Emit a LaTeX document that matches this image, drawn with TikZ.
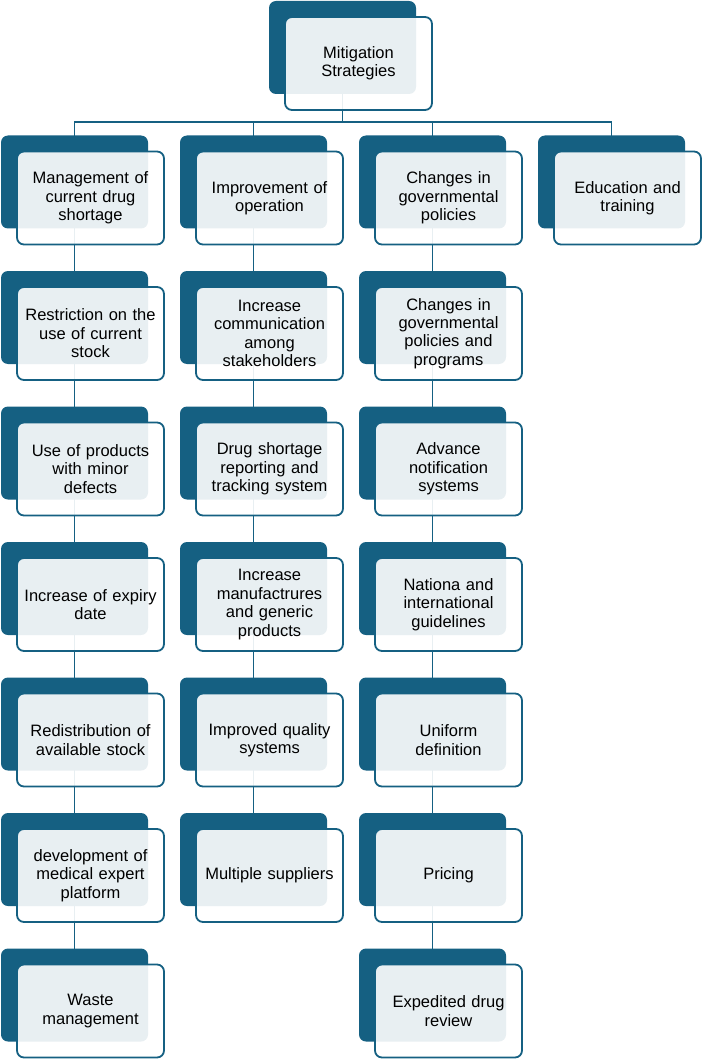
\documentclass[tikz,border=0pt]{standalone}
\usepackage{fontspec}
\setmainfont{Liberation Sans}
\definecolor{StratTeal}{HTML}{156082}
\usetikzlibrary{positioning,backgrounds}

\begin{document}
\begin{tikzpicture}[x=1pt,y=-1pt,
      card/.style={draw=StratTeal,line width=1.8pt,rounded corners=7pt,
                   fill=white,fill opacity=0.9,text opacity=1,
                   minimum width=147pt,minimum height=93pt,inner sep=0pt,
                   text width=140pt,align=center,
                   font=\fontsize{16.5}{18.4}\selectfont,
                   preaction={fill=StratTeal,fill opacity=1,draw=none,
                     transform canvas={xshift=-16pt,yshift=16pt}}},
      link/.style={line width=1.8pt,draw=StratTeal}]
    \useasboundingbox (0,0) rectangle (701,1059);
    % top
    \node[card] (strat) at (358.5,63.5) {Mitigation\\Strategies};
    % column 1
    \node[card] (mgmt) at (90.5,198) {Management of\\current drug\\shortage};
    \node[card] (restr) at (90.5,333.5) {Restriction on the\\use of current\\stock};
    \node[card] (defect) at (90.5,469) {Use of products\\with minor\\defects};
    \node[card] (expiry) at (90.5,604.5) {Increase of expiry\\date};
    \node[card] (redist) at (90.5,740) {Redistribution of\\available stock};
    \node[card] (expert) at (90.5,875.5) {development of\\medical expert\\platform};
    \node[card] (waste) at (90.5,1011) {Waste\\management};
    % column 2
    \node[card] (oper) at (269.5,198) {Improvement of\\operation};
    \node[card] (comm) at (269.5,333.5) {Increase\\communication\\among\\stakeholders};
    \node[card] (report) at (269.5,469) {Drug shortage\\reporting and\\tracking system};
    \node[card] (manuf) at (269.5,604.5) {Increase\\manufactrures\\and generic\\products};
    \node[card] (quality) at (269.5,740) {Improved quality\\systems};
    \node[card] (supp) at (269.5,875.5) {Multiple suppliers};
    % column 3
    \node[card] (policy) at (448.5,198) {Changes in\\governmental\\policies};
    \node[card] (program) at (448.5,333.5) {Changes in\\governmental\\policies and\\programs};
    \node[card] (notif) at (448.5,469) {Advance\\notification\\systems};
    \node[card] (guide) at (448.5,604.5) {Nationa and\\international\\guidelines};
    \node[card] (define) at (448.5,740) {Uniform\\definition};
    \node[card] (pricing) at (448.5,875.5) {Pricing};
    \node[card] (review) at (448.5,1011) {Expedited drug\\review};
    % column 4
    \node[card] (edu) at (627.5,198) {Education and\\training};
    % links behind the cards
    \begin{scope}[on background layer]
      \coordinate (bus) at (0,122);
      \draw[link] ([xshift=-16pt]strat.center) -- ([xshift=-16pt]strat.center |- bus);
      \draw[link] ([xshift=-16pt]mgmt.center) |- ([xshift=-16pt]edu.center |- bus)
        -- ([xshift=-16pt]edu.center);
      \draw[link] ([xshift=-16pt]oper.center) -- ([xshift=-16pt]oper.center |- bus);
      \draw[link] ([xshift=-16pt]policy.center) -- ([xshift=-16pt]policy.center |- bus);
      \draw[link] ([xshift=-16pt]mgmt.center) -- ([xshift=-16pt]restr.center)
        -- ([xshift=-16pt]defect.center) -- ([xshift=-16pt]expiry.center)
        -- ([xshift=-16pt]redist.center) -- ([xshift=-16pt]expert.center)
        -- ([xshift=-16pt]waste.center);
      \draw[link] ([xshift=-16pt]oper.center) -- ([xshift=-16pt]comm.center)
        -- ([xshift=-16pt]report.center) -- ([xshift=-16pt]manuf.center)
        -- ([xshift=-16pt]quality.center) -- ([xshift=-16pt]supp.center);
      \draw[link] ([xshift=-16pt]policy.center) -- ([xshift=-16pt]program.center)
        -- ([xshift=-16pt]notif.center) -- ([xshift=-16pt]guide.center)
        -- ([xshift=-16pt]define.center) -- ([xshift=-16pt]pricing.center)
        -- ([xshift=-16pt]review.center);
    \end{scope}
\end{tikzpicture}
\end{document}
